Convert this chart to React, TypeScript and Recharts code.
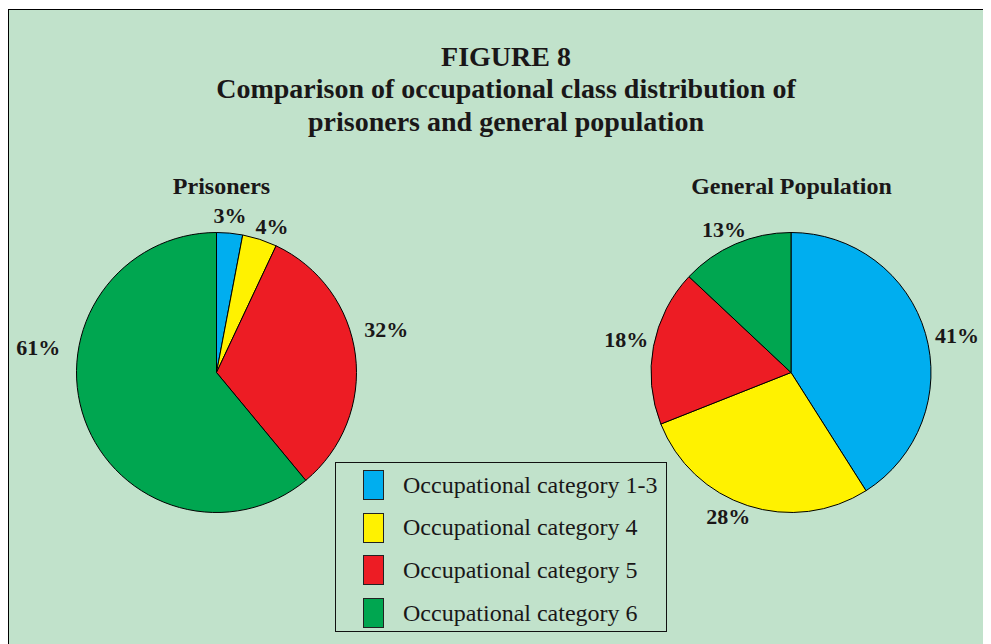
import { PieChart, Pie, Cell, Legend } from 'recharts'

const CATEGORIES = [
  'Occupational category 1-3',
  'Occupational category 4',
  'Occupational category 5',
  'Occupational category 6',
]
const PRISONERS = [3, 4, 32, 61]
const GENERAL_POPULATION = [41, 28, 18, 13]
const TITLE_LINES = [
  'FIGURE 8',
  'Comparison of occupational class distribution of',
  'prisoners and general population',
]

const COLORS = ['#00AEEF', '#FFF200', '#ED1C24', '#00A650']
const BG = '#C1E2CB'
const INK = '#1A1718'
const FONT = '"Liberation Serif", "Times New Roman", serif'

// label placement (angle in degrees, distance from pie centre), hand placed like the original
const PRISONER_LABELS = [
  [85.1, 158],
  [69.2, 156],
  [14.2, 175],
  [172, 180],
]
const GENERAL_LABELS = [
  [12.5, 170],
  [246.4, 157],
  [168.7, 168],
  [115.1, 158],
]

const prisonerData = PRISONERS.map((value, i) => ({ name: CATEGORIES[i], value }))
const generalData = GENERAL_POPULATION.map((value, i) => ({ name: CATEGORIES[i], value }))

const RAD = Math.PI / 180

function makeLabel(positions: number[][]) {
  return (props: any) => {
    const { cx, cy, index, value } = props
    const [angle, r] = positions[index]
    const x = cx + r * Math.cos(angle * RAD)
    const y = cy - r * Math.sin(angle * RAD)
    return (
      <text
        x={x}
        y={y}
        textAnchor="middle"
        dominantBaseline="central"
        fill={INK}
        style={{ fontFamily: FONT, fontSize: 22, fontWeight: 'bold' }}
      >
        {`${value}%`}
      </text>
    )
  }
}

function LegendBox() {
  return (
    <div
      style={{
        width: 332,
        height: 170,
        boxSizing: 'border-box',
        border: '1.5px solid #111',
        paddingTop: 1,
        fontFamily: FONT,
      }}
    >
      {CATEGORIES.map((name, i) => (
        <div key={name} style={{ height: 42.6, display: 'flex', alignItems: 'center' }}>
          <div
            style={{
              width: 21,
              height: 30,
              marginLeft: 27,
              boxSizing: 'border-box',
              border: '1.5px solid #222',
              backgroundColor: COLORS[i],
            }}
          />
          <span style={{ marginLeft: 19, fontSize: 24, color: INK }}>{name}</span>
        </div>
      ))}
    </div>
  )
}

export default function App() {
  return (
    <div style={{ position: 'relative', width: 983, height: 636 }}>
      {/* frame */}
      <div
        style={{
          position: 'absolute',
          left: 0,
          top: 1,
          width: 983,
          height: 635,
          boxSizing: 'border-box',
          borderTop: '1.5px solid #000',
          borderLeft: '1.5px solid #000',
          backgroundColor: BG,
        }}
      />
      {/* titles */}
      <svg width={983} height={636} style={{ position: 'absolute', left: 0, top: 0 }}>
        {TITLE_LINES.map((line, i) => (
          <text
            key={line}
            x={498}
            y={58 + i * 32.3}
            textAnchor="middle"
            fill={INK}
            style={{ fontFamily: FONT, fontSize: 28, fontWeight: 'bold' }}
          >
            {line}
          </text>
        ))}
        <text x={213.5} y={186} textAnchor="middle" fill={INK} style={{ fontFamily: FONT, fontSize: 24, fontWeight: 'bold' }}>
          Prisoners
        </text>
        <text x={783.5} y={186} textAnchor="middle" fill={INK} style={{ fontFamily: FONT, fontSize: 24, fontWeight: 'bold' }}>
          General Population
        </text>
      </svg>
      <div style={{ position: 'absolute', left: 0, top: 0 }}>
        <PieChart width={983} height={636} margin={{ top: 0, right: 0, bottom: 0, left: 0 }}>
          <Pie
            data={prisonerData}
            dataKey="value"
            nameKey="name"
            cx={208.5}
            cy={364.5}
            outerRadius={140}
            startAngle={90}
            endAngle={-270}
            stroke="#000"
            strokeWidth={1}
            labelLine={false}
            label={makeLabel(PRISONER_LABELS)}
            isAnimationActive={false}
          >
            {prisonerData.map((entry, i) => (
              <Cell key={`p-${entry.name}`} fill={COLORS[i]} />
            ))}
          </Pie>
          <Pie
            data={generalData}
            dataKey="value"
            nameKey="name"
            cx={783}
            cy={364.5}
            outerRadius={140}
            startAngle={90}
            endAngle={-270}
            stroke="#000"
            strokeWidth={1}
            labelLine={false}
            label={makeLabel(GENERAL_LABELS)}
            isAnimationActive={false}
          >
            {generalData.map((entry, i) => (
              <Cell key={`g-${entry.name}`} fill={COLORS[i]} />
            ))}
          </Pie>
          <Legend
            verticalAlign="bottom"
            content={() => <LegendBox />}
            wrapperStyle={{ left: 327, top: 454, bottom: 'auto', width: 332, height: 170 }}
          />
        </PieChart>
      </div>
    </div>
  )
}
